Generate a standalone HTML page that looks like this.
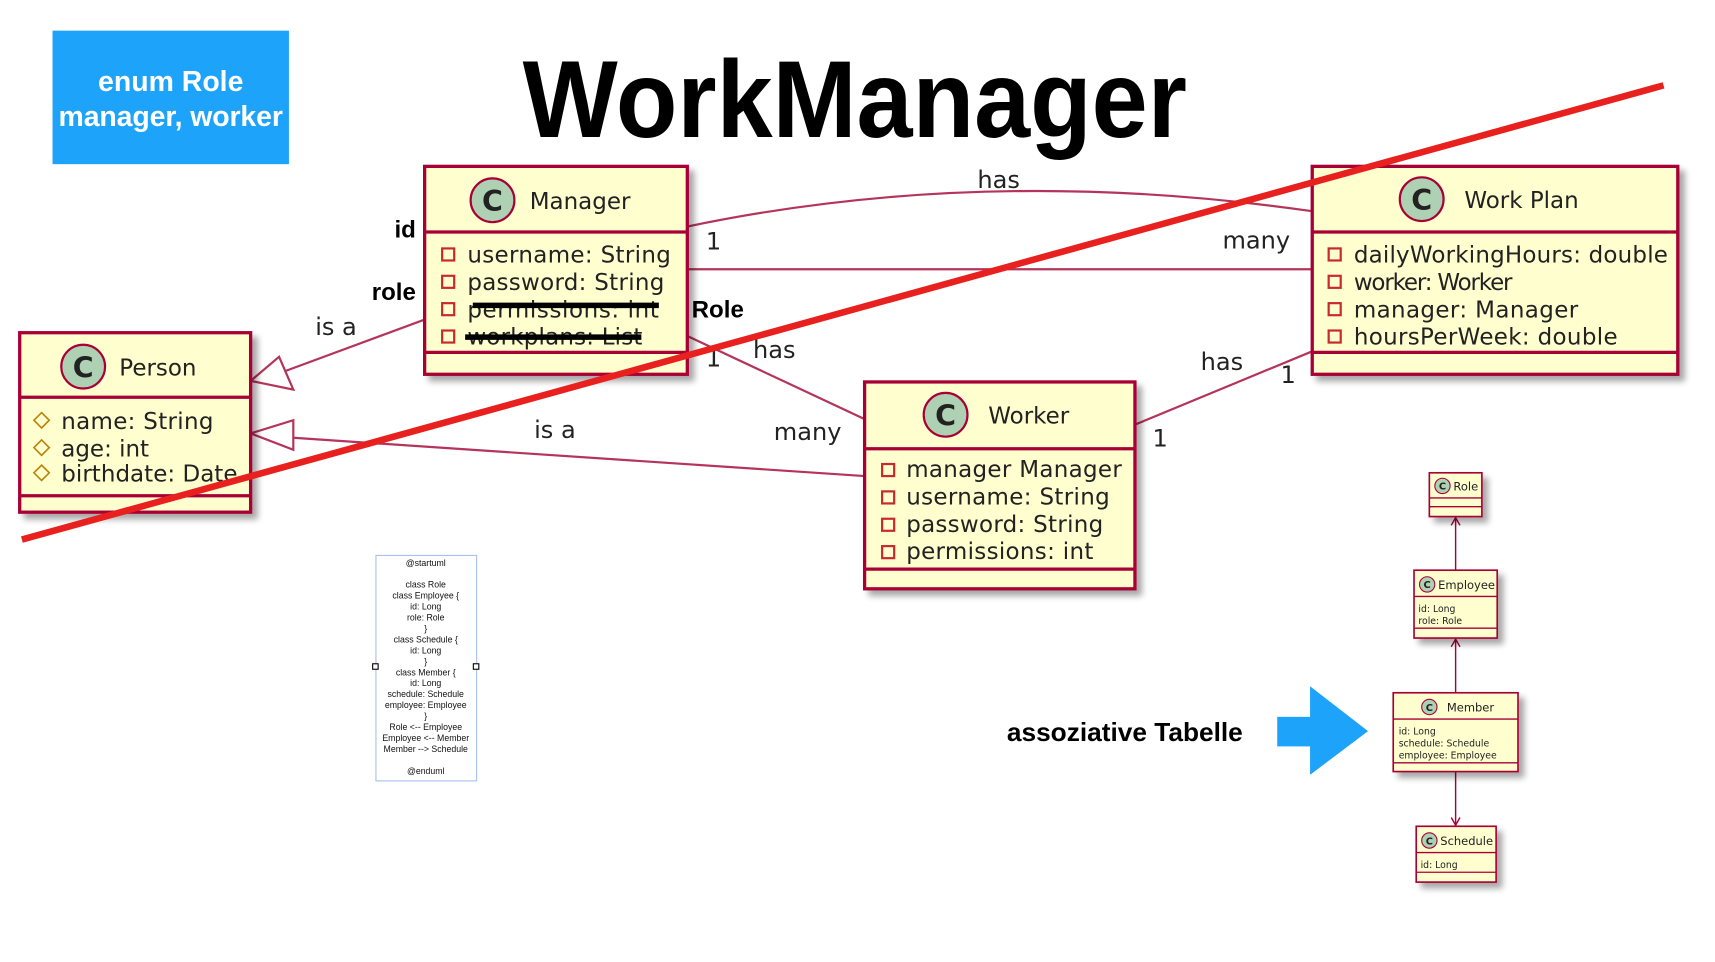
<!DOCTYPE html>
<html><head><meta charset="utf-8"><style>
html,body{margin:0;padding:0;background:#fff;}
svg{display:block;}
.u{font-family:"DejaVu Sans",sans-serif;fill:#222;}
.h{font-family:"Liberation Sans",sans-serif;font-weight:bold;fill:#000;}
</style></head><body>
<svg width="1715" height="962" viewBox="0 0 1567 879" preserveAspectRatio="none" xmlns="http://www.w3.org/2000/svg">
<defs>
<filter id="sh" x="-10%" y="-10%" width="130%" height="130%"><feGaussianBlur in="SourceAlpha" stdDeviation="3"/><feOffset dx="5" dy="5"/><feComponentTransfer><feFuncA type="linear" slope="0.35"/></feComponentTransfer><feMerge><feMergeNode/><feMergeNode in="SourceGraphic"/></feMerge></filter>
</defs>
<rect x="48" y="28" width="216" height="122" fill="#1ea3fa"/>
<text x="156" y="83" text-anchor="middle" font-size="26" class="h" style="fill:#fff">enum Role</text>
<text x="156" y="115" text-anchor="middle" font-size="26" class="h" style="fill:#fff" textLength="205">manager, worker</text>
<text x="781" y="125" text-anchor="middle" font-size="100" class="h" textLength="607" lengthAdjust="spacingAndGlyphs">WorkManager</text>

<g stroke="#b4345b" stroke-width="2" fill="none">
<path d="M628,207 Q900,150 1199,193"/>
<line x1="628" y1="246" x2="1199" y2="246"/>
<line x1="628" y1="307" x2="790" y2="383"/>
<line x1="1037" y1="388" x2="1199" y2="321"/>
<line x1="388" y1="292" x2="258" y2="340"/>
<polygon points="229,348 255,326 268,356" fill="#fff"/>
<line x1="790" y1="435" x2="268" y2="400"/>
<polygon points="229,396 268,384 268,411" fill="#fff"/>
</g>
<g class="u" font-size="22">
<text x="893" y="172">has</text><text x="645" y="228">1</text><text x="1117" y="227">many</text>
<text x="645" y="335">1</text><text x="688" y="327">has</text><text x="707" y="402">many</text>
<text x="1097" y="338">has</text><text x="1170" y="350">1</text><text x="1053" y="408">1</text>
<text x="288" y="306">is a</text><text x="488" y="400">is a</text>
</g>

<g stroke="#a80036" stroke-width="3" fill="#fefece" filter="url(#sh)">
<rect x="388" y="152" width="240" height="190"/>
<rect x="18" y="304" width="211" height="164"/>
<rect x="790" y="349" width="247" height="189"/>
<rect x="1199" y="152" width="334" height="190"/>
</g>
<g stroke="#a80036" stroke-width="3">
<line x1="388" y1="212" x2="628" y2="212"/><line x1="388" y1="322" x2="628" y2="322"/>
<line x1="18" y1="363" x2="229" y2="363"/><line x1="18" y1="453" x2="229" y2="453"/>
<line x1="790" y1="410" x2="1037" y2="410"/><line x1="790" y1="520" x2="1037" y2="520"/>
<line x1="1199" y1="212" x2="1533" y2="212"/><line x1="1199" y1="322" x2="1533" y2="322"/>
</g>
<g fill="#add1b2" stroke="#a80036" stroke-width="2">
<circle cx="450" cy="183" r="20"/><circle cx="76" cy="335" r="20"/><circle cx="864" cy="379" r="20"/><circle cx="1299" cy="182" r="20"/>
</g>
<g class="u" font-size="26" font-weight="bold" text-anchor="middle">
<text x="450" y="193">C</text><text x="76" y="345">C</text><text x="864" y="389">C</text><text x="1299" y="192">C</text>
</g>
<g class="u" font-size="21">
<text x="484" y="191">Manager</text><text x="109" y="343">Person</text><text x="903" y="387">Worker</text><text x="1338" y="190">Work Plan</text>
<text x="427" y="240" textLength="186">username: String</text><text x="427" y="265" textLength="180">password: String</text><text x="427" y="290" textLength="175">permissions: int</text><text x="427" y="315" textLength="160">workplans: List</text>
<text x="56" y="392" textLength="139">name: String</text><text x="56" y="417">age: int</text><text x="56" y="440" textLength="161">birthdate: Date</text>
<text x="828" y="436" textLength="197">manager Manager</text><text x="828" y="461" textLength="186">username: String</text><text x="828" y="486" textLength="180">password: String</text><text x="828" y="511" textLength="171">permissions: int</text>
<text x="1237" y="240" textLength="287">dailyWorkingHours: double</text><text x="1237" y="265" textLength="145">worker: Worker</text><text x="1237" y="290" textLength="205">manager: Manager</text><text x="1237" y="315" textLength="241">hoursPerWeek: double</text>
</g>
<g fill="none" stroke="#c82930" stroke-width="2">
<rect x="404" y="227" width="11" height="11"/><rect x="404" y="252" width="11" height="11"/><rect x="404" y="277" width="11" height="11"/><rect x="404" y="302" width="11" height="11"/>
<rect x="806" y="424" width="11" height="11"/><rect x="806" y="449" width="11" height="11"/><rect x="806" y="474" width="11" height="11"/><rect x="806" y="499" width="11" height="11"/>
<rect x="1214" y="227" width="11" height="11"/><rect x="1214" y="252" width="11" height="11"/><rect x="1214" y="277" width="11" height="11"/><rect x="1214" y="302" width="11" height="11"/>
</g>
<g fill="none" stroke="#b8860b" stroke-width="1.5">
<path d="M38,377 l7,7 l-7,7 l-7,-7z"/><path d="M38,402 l7,7 l-7,7 l-7,-7z"/><path d="M38,425 l7,7 l-7,7 l-7,-7z"/>
</g>
<g stroke="#000" stroke-width="5"><line x1="432" y1="279" x2="602" y2="279"/><line x1="425" y1="308" x2="586" y2="308"/></g>
<g class="h" font-size="22">
<text x="380" y="217" text-anchor="end">id</text><text x="380" y="274" text-anchor="end">role</text><text x="632" y="290">Role</text>
</g>

<line x1="20" y1="493" x2="1520" y2="78" stroke="#e8201e" stroke-width="6"/>

<rect x="343.5" y="507.5" width="92" height="206" fill="#fff" stroke="#a8bff0"/>
<rect x="340.5" y="606.5" width="5" height="5" fill="#fff" stroke="#000"/><rect x="432.5" y="606.5" width="5" height="5" fill="#fff" stroke="#000"/>
<g font-family="Liberation Sans,sans-serif" font-size="8" text-anchor="middle" fill="#111">
<text x="389" y="517">@startuml</text><text x="389" y="537">class Role</text><text x="389" y="547">class Employee {</text><text x="389" y="557">id: Long</text><text x="389" y="567">role: Role</text><text x="389" y="577">}</text><text x="389" y="587">class Schedule {</text><text x="389" y="597">id: Long</text><text x="389" y="607">}</text><text x="389" y="617">class Member {</text><text x="389" y="627">id: Long</text><text x="389" y="637">schedule: Schedule</text><text x="389" y="647">employee: Employee</text><text x="389" y="657">}</text><text x="389" y="667">Role &lt;-- Employee</text><text x="389" y="677">Employee &lt;-- Member</text><text x="389" y="687">Member --&gt; Schedule</text><text x="389" y="707">@enduml</text>
</g>

<text x="920" y="677" class="h" font-size="24">assoziative Tabelle</text>
<rect x="1167" y="655" width="32" height="27" fill="#1ea3fa"/>
<polygon points="1197,627 1250,668 1197,708" fill="#1ea3fa"/>

<g stroke="#a80036" stroke-width="1.3" fill="none">
<line x1="1330" y1="521" x2="1330" y2="473"/><path d="M1326,480 L1330,473 L1334,480"/>
<line x1="1330" y1="633" x2="1330" y2="584"/><path d="M1326,591 L1330,584 L1334,591"/>
<line x1="1330" y1="705" x2="1330" y2="754"/><path d="M1326,747 L1330,754 L1334,747"/>
</g>
<g stroke="#a80036" stroke-width="1.5" fill="#fefece" filter="url(#sh)">
<rect x="1306" y="432" width="48" height="40"/>
<rect x="1292" y="521" width="76" height="62"/>
<rect x="1273" y="633" width="114" height="72"/>
<rect x="1294" y="755" width="73" height="51"/>
</g>
<g stroke="#a80036" stroke-width="1.2">
<line x1="1306" y1="455" x2="1354" y2="455"/><line x1="1306" y1="463" x2="1354" y2="463"/>
<line x1="1292" y1="545" x2="1368" y2="545"/><line x1="1292" y1="574" x2="1368" y2="574"/>
<line x1="1273" y1="657" x2="1387" y2="657"/><line x1="1273" y1="697" x2="1387" y2="697"/>
<line x1="1294" y1="779" x2="1367" y2="779"/><line x1="1294" y1="797" x2="1367" y2="797"/>
</g>
<g fill="#add1b2" stroke="#a80036" stroke-width="1">
<circle cx="1318" cy="444" r="7"/><circle cx="1304" cy="534" r="7"/><circle cx="1306" cy="646" r="7"/><circle cx="1306" cy="768" r="7"/>
</g>
<g class="u" font-size="9" font-weight="bold" text-anchor="middle">
<text x="1318" y="447.5">C</text><text x="1304" y="537.5">C</text><text x="1306" y="649.5">C</text><text x="1306" y="771.5">C</text>
</g>
<g class="u" font-size="10.5">
<text x="1328" y="448">Role</text><text x="1314" y="538">Employee</text><text x="1322" y="650">Member</text><text x="1316" y="772">Schedule</text>
</g>
<g class="u" font-size="8.5">
<text x="1296" y="559">id: Long</text><text x="1296" y="570">role: Role</text>
<text x="1278" y="671">id: Long</text><text x="1278" y="682">schedule: Schedule</text><text x="1278" y="693">employee: Employee</text>
<text x="1298" y="793">id: Long</text>
</g>
</svg>
</body></html>
